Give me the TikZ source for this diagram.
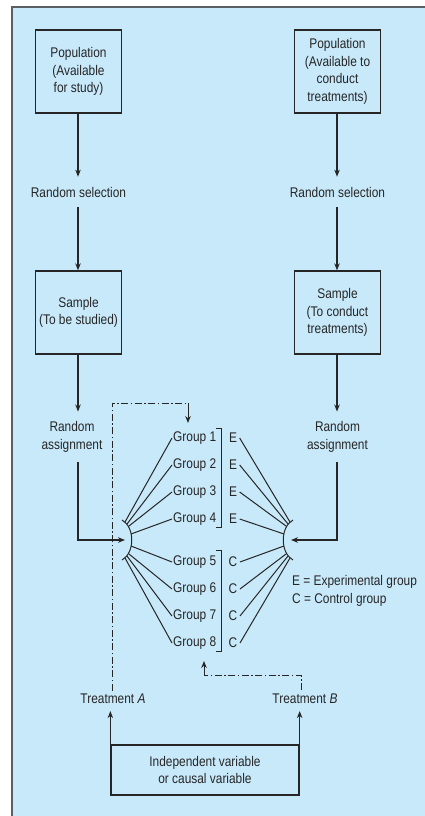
\documentclass[tikz,border=0pt]{standalone}
\usepackage{fontspec}
\setmainfont{Liberation Sans}[FakeStretch=0.85]
\usetikzlibrary{arrows.meta}
\definecolor{bg}{HTML}{C8E9FA}
\definecolor{ink}{HTML}{262626}
\definecolor{frame}{HTML}{5A5F63}
\begin{document}
\begin{tikzpicture}[x=1pt,y=-1pt,
  every node/.style={font=\fontsize{14}{17.5}\selectfont, text=ink},
  box/.style={draw=ink, line width=1.3pt, align=center, minimum width=86pt, minimum height=83pt, inner sep=2pt},
  lbl/.style={align=center, inner xsep=0pt, inner ysep=10pt},
  trt/.style={align=center, inner xsep=0pt, inner ysep=3pt},
  grp/.style={anchor=west, inner sep=1pt},
  let/.style={inner xsep=2.5pt, inner ysep=1pt},
  arr/.style={draw=ink, line width=1.2pt, -{Stealth[length=7pt,width=5.5pt]}},
  ln/.style={draw=ink, line width=1pt},
  dd/.style={draw=ink, line width=1pt, dash pattern=on 7pt off 2.5pt on 1.5pt off 2.5pt}]
\useasboundingbox (0,0) rectangle (425,816);
\fill[bg] (12,7) rectangle (425,816);
\draw[frame, line width=1.5pt] (12,816) -- (12,7) -- (425,7);

% top boxes and labels
\node[box] (popL) at (78.5,71.5) {Population\\(Available\\for study)};
\node[box] (popR) at (337.5,71.5) {Population\\(Available to\\conduct\\treatments)};
\node[lbl] (selL) at (78.5,192) {Random selection};
\node[lbl] (selR) at (337.5,192) {Random selection};
\node[box] (sampL) at (78.5,312.5) {Sample\\(To be studied)};
\node[box] (sampR) at (337.5,312.5) {Sample\\(To conduct\\treatments)};
\node[lbl] (asgL) at (72,437) {Random\\assignment};
\node[lbl] (asgR) at (337.5,437) {Random\\assignment};

\coordinate (axL) at (78,0);
\coordinate (axR) at (337,0);
\draw[arr] (axL |- popL.south) -- (axL |- selL.north);
\draw[arr] (axR |- popR.south) -- (axR |- selR.north);
\draw[arr] (axL |- selL.south) -- (axL |- sampL.north);
\draw[arr] (axR |- selR.south) -- (axR |- sampR.north);
\draw[arr] (axL |- sampL.south) -- (axL |- asgL.north);
\draw[arr] (axR |- sampR.south) -- (axR |- asgR.north);

% hubs
\coordinate (hubL) at (125,540);
\coordinate (hubR) at (291,540);
\coordinate (hLt) at (122,520);
\coordinate (hLb) at (122,560);
\coordinate (hRt) at (293,520);
\coordinate (hRb) at (293,560);
\draw[ln] (hLt) .. controls (135,527) and (135,553) .. (hLb);
\draw[ln] (hRt) .. controls (280,527) and (280,553) .. (hRb);
\draw[arr] (axL |- asgL.south) |- (hubL);
\draw[arr] (axR |- asgR.south) |- (hubR);

% groups
\node[grp] (g1) at (172,438) {Group 1};
\node[grp] (g2) at (172,465) {Group 2};
\node[grp] (g3) at (172,492) {Group 3};
\node[grp] (g4) at (172,519) {Group 4};
\node[grp] (g5) at (172,562) {Group 5};
\node[grp] (g6) at (172,589) {Group 6};
\node[grp] (g7) at (172,616) {Group 7};
\node[grp] (g8) at (172,643) {Group 8};
\node[let] (e1) at (233,438) {E};
\node[let] (e2) at (233,465) {E};
\node[let] (e3) at (233,492) {E};
\node[let] (e4) at (233,519) {E};
\node[let] (e5) at (233,562) {C};
\node[let] (e6) at (233,589) {C};
\node[let] (e7) at (233,616) {C};
\node[let] (e8) at (233,643) {C};

% brackets
\draw[ln] (216,428) -- (221,428) -- (221,527) -- (216,527);
\draw[ln] (216,550) -- (221,550) -- (221,651) -- (216,651);

% fan start points
\coordinate (l1) at (125,522);
\coordinate (l2) at (127,524);
\coordinate (l3) at (129,526);
\coordinate (l4) at (131,534);
\coordinate (l5) at (131,546);
\coordinate (l6) at (129,554);
\coordinate (l7) at (127,556);
\coordinate (l8) at (125,558);
\coordinate (r1) at (290,522);
\coordinate (r2) at (288,524);
\coordinate (r3) at (286,526);
\coordinate (r4) at (284,534);
\coordinate (r5) at (284,546);
\coordinate (r6) at (286,554);
\coordinate (r7) at (288,556);
\coordinate (r8) at (290,558);
\foreach \i in {1,...,8}{
  \draw[ln] (l\i) -- (g\i.west);
  \draw[ln] (e\i.east) -- (r\i);
}

% legend
\node[anchor=west, align=left, inner sep=0pt] (leg) at (292,591) {E = Experimental group\\C = Control group};

% treatments
\node[trt] (tA) at (113,699) {Treatment \textit{A}};
\node[trt] (tB) at (305,699) {Treatment \textit{B}};
\coordinate (dA) at (188,403);
\coordinate (gtop) at (188,423);
\coordinate (dB) at (204,675);
\coordinate (gbot) at (204,661);
\coordinate (tBs) at (301,690);
\draw[dd] (tA.north -| 112,0) |- (dA);
\draw[ink, line width=1pt, -{Stealth[length=7pt,width=5.5pt]}] (dA) -- (gtop);
\draw[dd] (tBs) |- (dB);
\draw[ink, line width=1pt, -{Stealth[length=7pt,width=5.5pt]}] (dB) -- (gbot);

% independent variable box
\node[draw=ink, line width=1.3pt, align=center, minimum width=188pt, minimum height=50pt, inner sep=2pt] (iv) at (205,770) {Independent variable\\or causal variable};
\draw[arr, shorten >=4pt] (iv.north west) -- (iv.north west |- tA.south);
\draw[arr, shorten >=4pt] (iv.north east) -- (iv.north east |- tB.south);
\end{tikzpicture}
\end{document}
